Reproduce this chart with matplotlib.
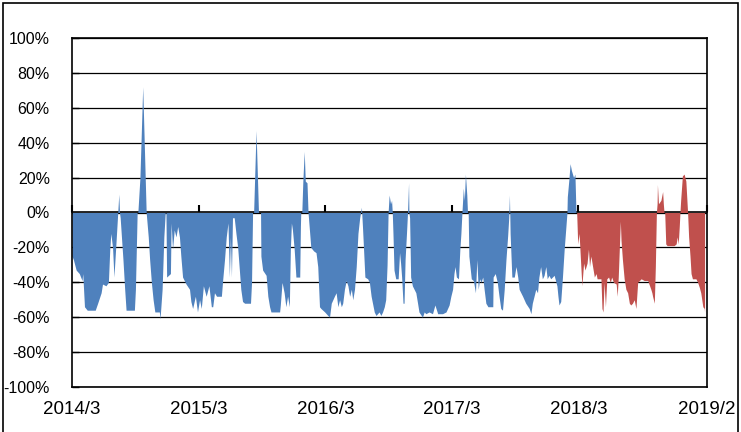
import matplotlib
matplotlib.use("Agg")
import matplotlib.pyplot as plt
import pandas as pd
from matplotlib.patches import Rectangle

# values in percent
blue_dates = [
    "2014-03-01", "2014-03-05", "2014-03-13", "2014-03-22", "2014-03-30", "2014-04-01",
    "2014-04-06", "2014-04-14", "2014-05-07", "2014-05-14", "2014-05-24", "2014-05-28",
    "2014-06-07", "2014-06-14", "2014-06-18", "2014-06-21", "2014-06-26", "2014-06-30",
    "2014-07-06", "2014-07-11", "2014-07-14", "2014-07-16", "2014-07-18", "2014-07-21",
    "2014-07-26", "2014-07-31", "2014-08-04", "2014-08-28", "2014-08-31", "2014-09-05",
    "2014-09-07", "2014-09-13", "2014-09-21", "2014-10-01", "2014-10-07", "2014-10-11",
    "2014-10-16", "2014-10-21", "2014-10-26", "2014-11-08", "2014-11-10", "2014-11-16",
    "2014-11-21", "2014-11-25", "2014-11-27", "2014-11-29", "2014-12-10", "2014-12-12",
    "2014-12-16", "2014-12-21", "2014-12-26", "2014-12-31", "2015-01-05", "2015-01-09",
    "2015-01-14", "2015-01-19", "2015-01-24", "2015-02-03", "2015-02-07", "2015-02-12",
    "2015-02-20", "2015-02-26", "2015-03-04", "2015-03-09", "2015-03-15", "2015-03-23",
    "2015-03-31", "2015-04-07", "2015-04-11", "2015-04-16", "2015-04-22", "2015-05-06",
    "2015-05-10", "2015-05-15", "2015-05-20", "2015-05-25", "2015-05-29", "2015-06-01",
    "2015-06-04", "2015-06-07", "2015-06-12", "2015-06-17", "2015-06-22", "2015-07-01",
    "2015-07-06", "2015-07-12", "2015-07-29", "2015-08-01", "2015-08-04", "2015-08-07",
    "2015-08-14", "2015-08-21", "2015-08-27", "2015-08-28", "2015-09-02", "2015-09-12",
    "2015-09-17", "2015-09-22", "2015-09-26", "2015-10-21", "2015-10-23", "2015-10-28",
    "2015-11-03", "2015-11-08", "2015-11-13", "2015-11-18", "2015-11-21", "2015-11-24",
    "2015-11-27", "2015-12-02", "2015-12-07", "2015-12-18", "2015-12-20", "2015-12-21",
    "2015-12-24", "2015-12-27", "2015-12-31", "2016-01-03", "2016-01-08", "2016-01-11",
    "2016-01-15", "2016-01-19", "2016-01-27", "2016-02-03", "2016-02-08", "2016-02-13",
    "2016-02-17", "2016-02-28", "2016-03-08", "2016-03-13", "2016-03-18", "2016-03-27",
    "2016-04-01", "2016-04-06", "2016-04-11", "2016-04-16", "2016-04-20", "2016-04-25",
    "2016-04-30", "2016-05-05", "2016-05-10", "2016-05-15", "2016-05-19", "2016-05-24",
    "2016-05-29", "2016-06-03", "2016-06-08", "2016-06-13", "2016-06-16", "2016-06-23",
    "2016-07-01", "2016-07-06", "2016-07-11", "2016-07-15", "2016-07-20", "2016-07-25",
    "2016-08-03", "2016-08-08", "2016-08-13", "2016-08-18", "2016-08-22", "2016-08-26",
    "2016-08-29", "2016-09-01", "2016-09-05", "2016-09-08", "2016-09-10", "2016-09-12",
    "2016-09-15", "2016-09-20", "2016-09-27", "2016-10-01", "2016-10-04", "2016-10-07",
    "2016-10-11", "2016-10-14", "2016-10-17", "2016-10-21", "2016-10-24", "2016-10-27",
    "2016-10-28", "2016-10-30", "2016-11-02", "2016-11-07", "2016-11-17", "2016-11-22",
    "2016-11-26", "2016-12-06", "2016-12-11", "2016-12-16", "2016-12-25", "2017-01-04",
    "2017-01-11", "2017-01-19", "2017-02-02", "2017-02-12", "2017-02-21", "2017-02-26",
    "2017-03-03", "2017-03-07", "2017-03-10", "2017-03-14", "2017-03-20", "2017-03-24",
    "2017-03-27", "2017-03-30", "2017-04-03", "2017-04-06", "2017-04-09", "2017-04-13",
    "2017-04-15", "2017-04-17", "2017-04-19", "2017-04-26", "2017-05-02", "2017-05-08",
    "2017-05-12", "2017-05-16", "2017-05-20", "2017-05-24", "2017-05-29", "2017-06-02",
    "2017-06-07", "2017-06-13", "2017-06-27", "2017-06-28", "2017-07-04", "2017-07-10",
    "2017-07-15", "2017-07-20", "2017-07-25", "2017-07-30", "2017-08-04", "2017-08-09",
    "2017-08-12", "2017-08-14", "2017-08-16", "2017-08-21", "2017-08-28", "2017-09-02",
    "2017-09-07", "2017-09-11", "2017-09-21", "2017-09-30", "2017-10-10", "2017-10-15",
    "2017-10-19", "2017-10-24", "2017-10-29", "2017-11-03", "2017-11-07", "2017-11-12",
    "2017-11-17", "2017-11-22", "2017-11-27", "2017-12-01", "2017-12-06", "2017-12-11",
    "2017-12-21", "2017-12-29", "2018-01-01", "2018-01-04", "2018-01-09", "2018-01-14",
    "2018-01-19", "2018-01-24", "2018-01-27", "2018-01-28", "2018-02-02", "2018-02-05",
    "2018-02-09", "2018-02-15", "2018-02-19", "2018-02-22",
]
blue_values = [
    -25, -27, -33, -35, -39, -35,
    -54, -56, -56, -52, -46, -41,
    -42, -40, -21, -12, -20, -37,
    -17, 0, 10.5, 0, -3, -12,
    -27, -44, -56, -56, -44, 0,
    0, 20, 72, 0, -14, -27,
    -40, -50, -57, -57, -61, -44,
    -14, 0, 0, -37, -35, -6,
    -21, -10, -14, -8, -14, -25,
    -37, -39, -41, -44, -51, -55,
    -48, -57, -50, -55, -42, -48,
    -42, -54, -54, -46, -48, -48,
    -38, -27, -14, -6, -37, -14,
    -37, -3, -3, -12, -20, -44,
    -51, -52, -52, -40, 0, 0,
    47, 0, 0, -25, -33, -36,
    -48, -54, -57, -57, -53, -40,
    -46, -54, -48, -54, -21, -6,
    -10, -21, -37, -37, -8, 0,
    0, 18, 35, 18, 17, 0,
    -10, -20, -22, -23, -31, -54,
    -55, -57, -59, -60, -52, -48,
    -46, -54, -50, -54, -52, -44,
    -39, -42, -48, -44, -50, -44,
    -31, -12, -3, 3, -8, -37,
    -38, -40, -48, -52, -57, -59,
    -57, -59, -57, -54, -50, -30,
    0, 10, 5, 7, 0, -12,
    -33, -38, -38, -23, -29, -37,
    -52, -52, -27, -12, 0, 17,
    0, -3, -37, -42, -46, -52,
    -57, -60, -57, -58, -57, -58,
    -53, -58, -58, -57, -53, -48,
    -44, -35, -31, -37, -38, -21,
    -12, 0, 14, 7, 22, 10,
    0, 0, -25, -38, -39, -46,
    -27, -44, -38, -40, -37, -44,
    -52, -54, -54, -37, -35, -40,
    -48, -55, -56, -44, -27, -13,
    -3, 10, -12, -37, -37, -31,
    -37, -44, -48, -52, -55, -58,
    -52, -48, -44, -46, -37, -31,
    -38, -36, -31, -38, -36, -38,
    -36, -42, -48, -53, -51, -37,
    -21, -8, 0, 9, 20, 28,
    24, 20, 22, 0,
]

red_dates = [
    "2018-02-24", "2018-02-27", "2018-03-03", "2018-03-08", "2018-03-11", "2018-03-16",
    "2018-03-20", "2018-03-26", "2018-03-30", "2018-04-02", "2018-04-06", "2018-04-11",
    "2018-04-16", "2018-04-21", "2018-04-24", "2018-04-27", "2018-05-05", "2018-05-08",
    "2018-05-11", "2018-05-14", "2018-05-18", "2018-05-22", "2018-05-27", "2018-06-01",
    "2018-06-05", "2018-06-10", "2018-06-18", "2018-06-21", "2018-06-24", "2018-06-30",
    "2018-07-02", "2018-07-06", "2018-07-11", "2018-07-16", "2018-07-21", "2018-07-26",
    "2018-07-30", "2018-08-04", "2018-08-09", "2018-08-14", "2018-08-19", "2018-08-29",
    "2018-09-07", "2018-09-17", "2018-09-26", "2018-09-29", "2018-10-01", "2018-10-06",
    "2018-10-09", "2018-10-12", "2018-10-14", "2018-10-15", "2018-10-18", "2018-10-25",
    "2018-10-30", "2018-11-01", "2018-11-03", "2018-11-05", "2018-11-08", "2018-11-12",
    "2018-12-02", "2018-12-08", "2018-12-11", "2018-12-14", "2018-12-17", "2018-12-19",
    "2018-12-21", "2018-12-26", "2018-12-31", "2019-01-05", "2019-01-10", "2019-01-13",
    "2019-01-17", "2019-01-20", "2019-01-24", "2019-02-03", "2019-02-08", "2019-02-13",
    "2019-02-17", "2019-02-23", "2019-02-27", "2019-02-28",
]
red_values = [
    0, -18, -12, -31, -42, -29,
    -33, -29, -21, -31, -25, -31,
    -37, -35, -38, -38, -38, -55,
    -57, -40, -54, -38, -37, -40,
    -37, -40, -41, -48, -37, -5,
    -16, -27, -38, -44, -46, -52,
    -53, -52, -50, -55, -40, -38,
    -39, -39, -44, -46, -48, -52,
    -31, 0, 5, 16, 5, 7,
    12, 5, 0, 0, -18, -19,
    -19, -18, -14, -18, -8, 0,
    7, 21, 22, 18, 0, -14,
    -25, -35, -38, -38, -40, -43,
    -46, -54, -55, -57,
]

y_ticks = [-100, -80, -60, -40, -20, 0, 20, 40, 60, 80, 100]
x_tick_dates = ["2014-03-01", "2015-03-01", "2016-03-01", "2017-03-01", "2018-03-01", "2019-03-07"]
x_tick_labels = ["2014/3", "2015/3", "2016/3", "2017/3", "2018/3", "2019/2"]

plt.rcParams["font.family"] = ["Liberation Sans", "DejaVu Sans"]

fig = plt.figure(figsize=(7.41, 4.32), dpi=100)
ax = fig.add_axes([72 / 741, 45 / 432, 635 / 741, 349 / 432])

bd = pd.to_datetime(blue_dates)
rd = pd.to_datetime(red_dates)
ax.fill_between(bd, blue_values, 0, color="#4F81BD", linewidth=0)
ax.fill_between(rd, red_values, 0, color="#C0504D", linewidth=0)

ticks = pd.to_datetime(x_tick_dates)
ax.set_xlim(ticks[0], ticks[-1])
ax.set_ylim(-100, 100)
ax.set_yticks(y_ticks, [f"{v}%" for v in y_ticks])
ax.set_xticks(ticks, x_tick_labels)

# gridlines sit behind the filled areas
ax.set_axisbelow(True)
ax.grid(axis="y", color="black", linewidth=0.9)
ax.tick_params(axis="x", length=0, pad=10, labelsize=13.5)
ax.tick_params(axis="y", direction="in", length=5, width=1, pad=16, labelsize=11.5)
for sp in ax.spines.values():
    sp.set_color("black")
    sp.set_linewidth(1.2)
    sp.set_zorder(3)

# zero line with small year ticks pointing up
zero_ax = ax.secondary_xaxis(0.5)
zero_ax.set_xticks(ticks)
zero_ax.tick_params(direction="out", length=5, width=1.5, labeltop=False, labelbottom=False)
zero_ax.spines["top"].set_linewidth(1.2)
zero_ax.spines["bottom"].set_linewidth(1.2)

# outer chart border
fig.patches.append(Rectangle((3 / 741, -0.05), 735 / 741, 1.05 - 3 / 432,
                             transform=fig.transFigure, fill=False,
                             edgecolor="black", linewidth=1.2))

fig.savefig("out.png", dpi=100)
